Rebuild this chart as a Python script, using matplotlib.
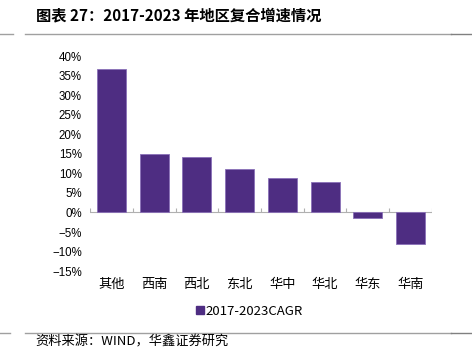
import matplotlib
matplotlib.use("Agg")
import matplotlib.pyplot as plt
from matplotlib.ticker import FuncFormatter
from matplotlib.lines import Line2D

regions = ["其他", "西南", "西北", "东北", "华中", "华北", "华东", "华南"]
cagr = [36.7, 14.9, 14.1, 11.0, 8.7, 7.7, -1.5, -8.0]
series_name = "2017-2023CAGR"
yticks = list(range(-15, 41, 5))

purple = "#4E2D82"
cjk = ["Noto Sans CJK SC", "DejaVu Sans"]

fig = plt.figure(figsize=(4.72, 3.6), dpi=100)
ax = fig.add_axes([0.191, 0.247, 0.724, 0.597])

x = list(range(len(regions)))
ax.bar(x, cagr, width=0.68, color=purple, edgecolor="#8A70B8", linewidth=0.6, zorder=3)

ax.set_xlim(-0.5, len(regions) - 0.5)
ax.set_ylim(-15, 40)
ax.set_yticks(yticks)
ax.yaxis.set_major_formatter(FuncFormatter(lambda v, p: f"{v:.0f}%".replace("-", "\u2212")))
for lab in ax.get_yticklabels():
    lab.set_fontfamily("Liberation Sans")
    lab.set_fontsize(8.3)
ax.tick_params(axis="y", length=0, pad=6)

ax.set_xticks(x)
ax.set_xticklabels(regions, fontfamily=cjk, fontsize=9.5)
ax.tick_params(axis="x", length=0, pad=5)

for s in ax.spines.values():
    s.set_visible(False)

# zero line with small upward ticks between categories
ax.axhline(0, color="#B0B0B0", linewidth=0.8, zorder=2)
ax.vlines([i - 0.5 for i in range(len(regions) + 1)], 0, 1.1, color="#B0B0B0", linewidth=0.8, zorder=2)

handle = Line2D([], [], marker="s", linestyle="", color=purple, markersize=6)
fig.legend([handle], [series_name], loc="center", bbox_to_anchor=(0.527, 0.136),
           frameon=False, prop={"family": cjk, "size": 9.5}, handletextpad=0.0,
           handlelength=0.8)

# header / footer
fig.text(0.076, 0.958, "图表 27：2017-2023 年地区复合增速情况", fontfamily=cjk,
         fontsize=11, fontweight="bold", va="center", ha="left")
fig.add_artist(Line2D([0.053, 0.955], [0.905, 0.905], color="#A0A0A0", linewidth=1.0))
fig.add_artist(Line2D([0.0, 0.028], [0.905, 0.905], color="#A0A0A0", linewidth=1.0))
fig.add_artist(Line2D([0.955, 1.0], [0.905, 0.905], color="#808080", linewidth=1.0))
fig.add_artist(Line2D([0.053, 0.955], [0.075, 0.075], color="#A0A0A0", linewidth=1.0))
fig.add_artist(Line2D([0.0, 0.022], [0.075, 0.075], color="#A0A0A0", linewidth=1.0))
fig.add_artist(Line2D([0.955, 1.0], [0.075, 0.075], color="#808080", linewidth=1.0))
fig.text(0.074, 0.051, "资料来源：WIND，华鑫证券研究", fontfamily=cjk, fontsize=9.5,
         va="center", ha="left")

fig.savefig("out.png", dpi=100)
